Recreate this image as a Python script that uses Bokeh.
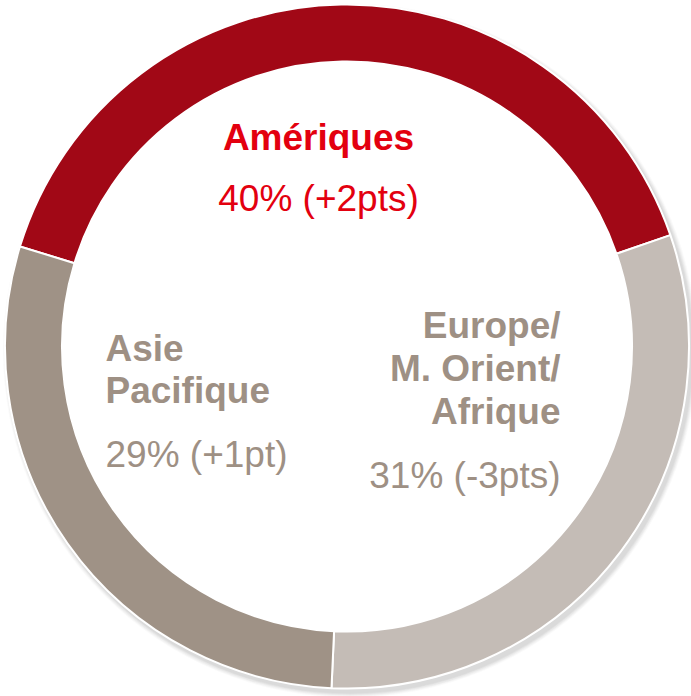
import math
from bokeh.plotting import figure
from bokeh.models import Range1d, ColumnDataSource
from bokeh.core.properties import value
from bokeh.embed import file_html
from bokeh.resources import INLINE

# ---- data ----
regions = ["Amériques", "Europe/ M. Orient/ Afrique", "Asie Pacifique"]
shares = [40, 31, 29]
changes = ["(+2pts)", "(-3pts)", "(+1pt)"]
colors = ["#A10816", "#C4BCB6", "#9F9286"]

W, H = 691, 696
p = figure(width=W, height=H, output_backend="svg", toolbar_location=None,
           x_range=Range1d(0, W), y_range=Range1d(0, H),
           min_border=0, outline_line_color=None)
p.axis.visible = False
p.grid.visible = False
p.background_fill_color = "white"
p.border_fill_color = "white"

def Y(py):
    return H - py

cx, cy = 346.5, Y(346)
r_out, r_in = 342, 285

# soft shadow
for k, a in enumerate([0.05, 0.05, 0.05, 0.04, 0.03]):
    p.annulus(x=cx + 3, y=cy - 4, inner_radius=r_in + 20, outer_radius=r_out + 1 + k,
              fill_color="#555555", fill_alpha=a, line_color=None)

# wedges, clockwise from 163 degrees
start = 163.0
starts, ends = [], []
for s in shares:
    e = start - s / sum(shares) * 360.0
    starts.append(math.radians(start))
    ends.append(math.radians(e))
    start = e

src = ColumnDataSource(dict(start=starts, end=ends, color=colors))
p.annular_wedge(x=cx, y=cy, inner_radius=r_in, outer_radius=r_out,
                start_angle="start", end_angle="end", direction="clock",
                fill_color="color", line_color="white", line_width=2, source=src)

font = value("Liberation Sans")
red_txt = "#E3000F"
grey_txt = "#9E9084"
fs = "37px"
DY = -13  # baseline correction

def txt(x, py, s, color, bold, align):
    p.text(x=[x], y=[Y(py + DY)], text=[s], text_font=font, text_font_size=fs,
           text_font_style="bold" if bold else "normal", text_color=color,
           text_align=align, text_baseline="alphabetic")

# Amériques
txt(318, 150, regions[0], red_txt, True, "center")
txt(318, 211, f"{shares[0]}% {changes[0]}", red_txt, False, "center")

# Asie Pacifique
for i, line in enumerate(["Asie", "Pacifique"]):
    txt(105, 361 + 42 * i, line, grey_txt, True, "left")
txt(105, 467, f"{shares[2]}% {changes[2]}", grey_txt, False, "left")

# Europe
for i, line in enumerate(["Europe/", "M. Orient/", "Afrique"]):
    txt(560, 338 + 43 * i, line, grey_txt, True, "right")
txt(560, 488, f"{shares[1]}% {changes[1]}", grey_txt, False, "right")

open("out.html", "w").write(file_html(p, INLINE))
